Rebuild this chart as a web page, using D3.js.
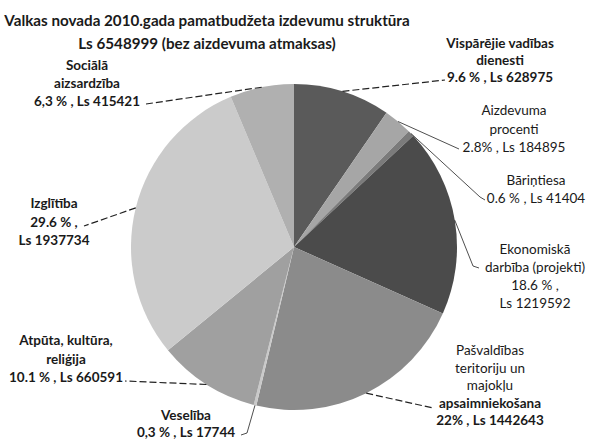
<!DOCTYPE html>
<html>
<head>
<meta charset="utf-8">
<script src="https://cdn.jsdelivr.net/npm/d3@7"></script>
<style>
    body { margin: 0; background: #fff; }
    text { font-family: Lato, "Open Sans", sans-serif; fill: #1a1a1a; }
    .title { font-weight: bold; font-size: 15.2px; }
    .lbl { font-size: 13.5px; }
    .bold { font-weight: bold; }
</style>
</head>
<body>
<div id="chart"></div>
<script>
// budget categories, clockwise from 12 o'clock
const categories = ["Vispārējie vadības dienesti", "Aizdevuma procenti", "Bāriņtiesa",
    "Ekonomiskā darbība (projekti)", "Pašvaldības teritoriju un majokļu apsaimniekošana",
    "Veselība", "Atpūta, kultūra, reliģija", "Izglītība", "Sociālā aizsardzība"];
const values = [628975, 184895, 41404, 1219592, 1442643, 17744, 660591, 1937734, 415421];
const percentLabels = ["9.6 %", "2.8%", "0.6 %", "18.6 %", "22%", "0,3 %", "10.1 %", "29.6 %", "6,3 %"];
const nameLines = [
    ["Vispārējie vadības", "dienesti"],
    ["Aizdevuma", "procenti"],
    ["Bāriņtiesa"],
    ["Ekonomiskā", "darbība (projekti)"],
    ["Pašvaldības", "teritoriju un", "majokļu", "apsaimniekošana"],
    ["Veselība"],
    ["Atpūta, kultūra,", "reliģija"],
    ["Izglītība"],
    ["Sociālā", "aizsardzība"]
];
const titleLines = ["Valkas novada 2010.gada pamatbudžeta izdevumu struktūra",
    "Ls 6548999 (bez aizdevuma atmaksas)"];

const width = 594;
const height = 443;
const cx = 294, cy = 247, radius = 163;

const palette = ["#5a5a5a", "#a6a6a6", "#7b7b7b", "#4b4b4b", "#8b8b8b",
    "#c9c9c9", "#a0a0a0", "#cbcbcb", "#b0b0b0"];

// label placement: x centre, first baseline, line end points, style
const labelLayout = [
    { x: 500, y: 48, lh: 17, split: false, boldFrom: 0, dash: true, pts: [[445, 80]] },
    { x: 514, y: 115, lh: 18.5, split: false, boldFrom: 9, dash: false, pts: [[459, 149]] },
    { x: 536, y: 185, lh: 18, split: false, boldFrom: 9, dash: false, pts: [[480, 197], [485, 200]] },
    { x: 535, y: 254, lh: 18, split: true, boldFrom: 9, dash: false, pts: [[473, 266], [479, 268]] },
    { x: 490, y: 355, lh: 17.5, split: false, boldFrom: 3, dash: true, pts: [[433, 408]] },
    { x: 186, y: 420, lh: 17, split: false, boldFrom: 0, dash: false, pts: [[247, 433], [241, 435]] },
    { x: 66, y: 345, lh: 18.5, split: false, boldFrom: 0, dash: true, pts: [[125, 381]] },
    { x: 54, y: 208, lh: 18.5, split: true, boldFrom: 0, dash: true, pts: [[84, 226]] },
    { x: 87, y: 70, lh: 18, split: false, boldFrom: 0, dash: true, pts: [[146, 104]] }
];

const svg = d3.select("#chart")
    .append("svg")
    .attr("width", width)
    .attr("height", height);

svg.selectAll(".title")
    .data(titleLines)
    .enter().append("text")
    .attr("class", "title")
    .attr("x", 207)
    .attr("y", (d, i) => 26 + i * 23)
    .attr("text-anchor", "middle")
    .text(d => d);

const color = d3.scaleOrdinal().domain(categories).range(palette);

const pie = d3.pie().sort(null).value(d => d.value);
const arcs = pie(categories.map((c, i) => ({ name: c, value: values[i], i: i })));

const arc = d3.arc().innerRadius(0).outerRadius(radius);
const edge = d3.arc().innerRadius(radius).outerRadius(radius);

const g = svg.append("g").attr("transform", "translate(" + cx + "," + cy + ")");

g.selectAll("path.slice")
    .data(arcs)
    .enter().append("path")
    .attr("class", "slice")
    .attr("d", arc)
    .attr("fill", d => color(d.data.name));

// leader lines from slice edge to label
const line = d3.line();
svg.selectAll("path.leader")
    .data(arcs)
    .enter().append("path")
    .attr("class", "leader")
    .attr("d", d => {
        const c = edge.centroid(d);
        const L = labelLayout[d.index];
        return line([[c[0] + cx, c[1] + cy]].concat(L.pts));
    })
    .attr("fill", "none")
    .attr("stroke", "#222")
    .attr("stroke-width", d => labelLayout[d.index].dash ? 1.2 : 0.8)
    .attr("stroke-dasharray", d => labelLayout[d.index].dash ? "7,3" : null);

// labels
arcs.forEach(function (d, i) {
    const L = labelLayout[i];
    let lines = nameLines[i].slice();
    if (L.split) {
        lines.push(percentLabels[i] + " ,");
        lines.push("Ls " + values[i]);
    } else {
        lines.push(percentLabels[i] + " , Ls " + values[i]);
    }
    const t = svg.append("text")
        .attr("class", "lbl")
        .attr("text-anchor", "middle");
    lines.forEach(function (s, k) {
        t.append("tspan")
            .attr("x", L.x)
            .attr("y", L.y + k * L.lh)
            .attr("class", k >= L.boldFrom ? "bold" : null)
            .text(s);
    });
});
</script>
</body>
</html>
